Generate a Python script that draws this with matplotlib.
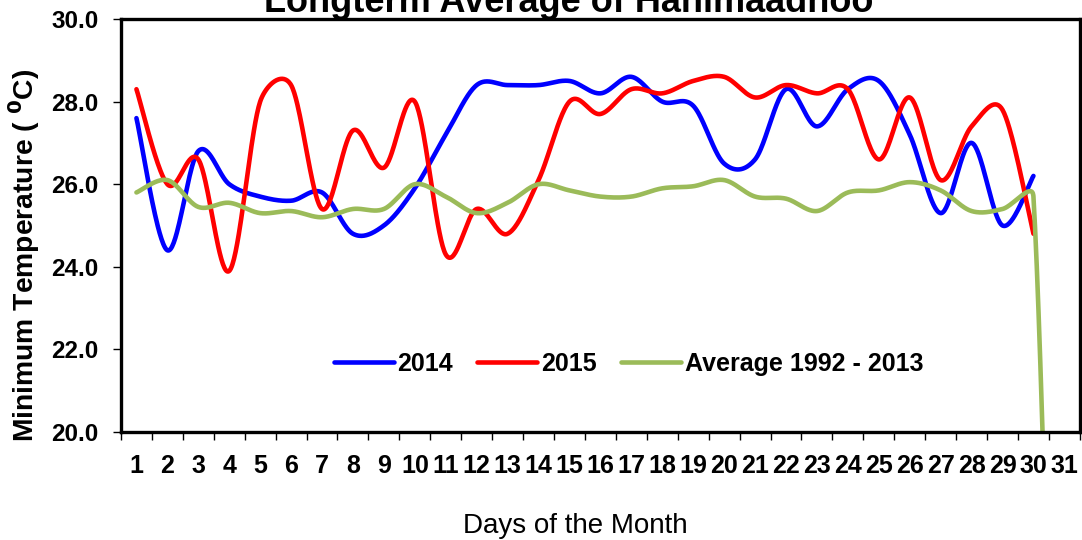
import numpy as np
import matplotlib
matplotlib.use('Agg')
import matplotlib.pyplot as plt

plt.rcParams['font.family'] = ['Liberation Sans', 'DejaVu Sans']

days = list(range(1, 32))
t2014 = [27.6, 24.4, 26.8, 26.0, 25.7, 25.6, 25.8, 24.8, 25.0, 25.9,
         27.2, 28.4, 28.4, 28.4, 28.5, 28.2, 28.6, 28.0, 27.9, 26.5,
         26.6, 28.3, 27.4, 28.3, 28.5, 27.2, 25.3, 27.0, 25.0, 26.2]
t2015 = [28.3, 26.0, 26.6, 23.9, 28.0, 28.4, 25.4, 27.3, 26.4, 28.0,
         24.3, 25.4, 24.8, 26.1, 28.0, 27.7, 28.3, 28.2, 28.5, 28.6,
         28.1, 28.4, 28.2, 28.3, 26.6, 28.1, 26.1, 27.4, 27.8, 24.8]
avg = [25.8, 26.1, 25.45, 25.55, 25.3, 25.35, 25.2, 25.4, 25.4, 26.0,
       25.7, 25.3, 25.55, 26.0, 25.85, 25.7, 25.7, 25.9, 25.95, 26.1,
       25.7, 25.65, 25.35, 25.8, 25.85, 26.05, 25.85, 25.35, 25.4, 25.7,
       0.0]

# rough pixels per unit on screen, for segment lengths in the smoothing
XPX, YPX = 31.0, 41.4


def smooth(x, y, n=40):
    # bezier through the points like excel's smoothed line,
    # control arm is clipped to half the segment length so big jumps don't overshoot
    x = np.asarray(x, float)
    y = np.asarray(y, float)
    P = np.column_stack([x, y])
    P = np.vstack([P[:1], P, P[-1:]])
    sc = np.array([XPX, YPX])
    t = np.linspace(0, 1, n)[:, None]
    xs, ys = [], []
    for i in range(1, len(x)):
        p0, p3 = P[i], P[i + 1]
        seg = 0.5 * np.hypot(*((p3 - p0) * sc))
        a1 = (P[i + 1] - P[i - 1]) / 6
        a2 = (P[i + 2] - P[i]) / 6
        for a in (a1, a2):
            m = np.hypot(*(a * sc))
            if m > seg:
                a *= seg / m
        c1 = p0 + a1
        c2 = p3 - a2
        b = (1 - t) ** 3 * p0 + 3 * (1 - t) ** 2 * t * c1 \
            + 3 * (1 - t) * t ** 2 * c2 + t ** 3 * p3
        xs.extend(b[:, 0])
        ys.extend(b[:, 1])
    return xs, ys


fig = plt.figure(figsize=(10.82, 5.40), dpi=100)
ax = fig.add_axes([0.1118, 0.2, 0.8862, 0.7648])

for vals, col, lab in [(t2014, '#0000FF', '2014'),
                       (t2015, '#FF0000', '2015'),
                       (avg, '#9BBB59', 'Average 1992 - 2013')]:
    sx, sy = smooth(days[:len(vals)], vals)
    ax.plot(sx, sy, color=col, lw=3.3, label=lab, solid_capstyle='round')

ax.set_xlim(0.5, 31.5)
ax.set_ylim(20, 30)
ax.set_yticks(np.arange(20, 31, 2))
ax.set_yticklabels(['%.1f' % v for v in np.arange(20, 31, 2)],
                   fontsize=17.5, fontweight='bold')
ax.set_xticks(days)
ax.set_xticklabels([str(d) for d in days], fontsize=18, fontweight='bold')
ax.set_xticks(np.arange(0.5, 32, 1), minor=True)
ax.tick_params(axis='x', which='major', length=0, pad=16)
ax.tick_params(axis='x', which='minor', length=6, width=1, direction='out')
ax.tick_params(axis='y', length=6, width=1, direction='out', pad=10)

for s in ax.spines.values():
    s.set_linewidth(2.4)

fig.text(24 / 1082, 1 - 255 / 540, r'Minimum Temperature ( $\mathbf{^{0}}$C)',
         fontsize=20.3, fontweight='bold', rotation=90, ha='center', va='center')
fig.text(575 / 1082, 1 - 533 / 540, 'Days of the Month', fontsize=20,
         ha='center', va='baseline')

ax.legend(loc='center', bbox_to_anchor=((628.5 - 121) / 959, (432 - 364) / 413),
          ncol=3, frameon=False, prop={'size': 18, 'weight': 'bold'},
          handlelength=2.4, handletextpad=0.16, columnspacing=0.96)

fig.text(569 / 1082, 1 - 12 / 540, 'Longterm Average of Hanimaadhoo', ha='center',
         va='baseline', fontsize=26, fontweight='bold')

fig.savefig('out.png', dpi=100)
